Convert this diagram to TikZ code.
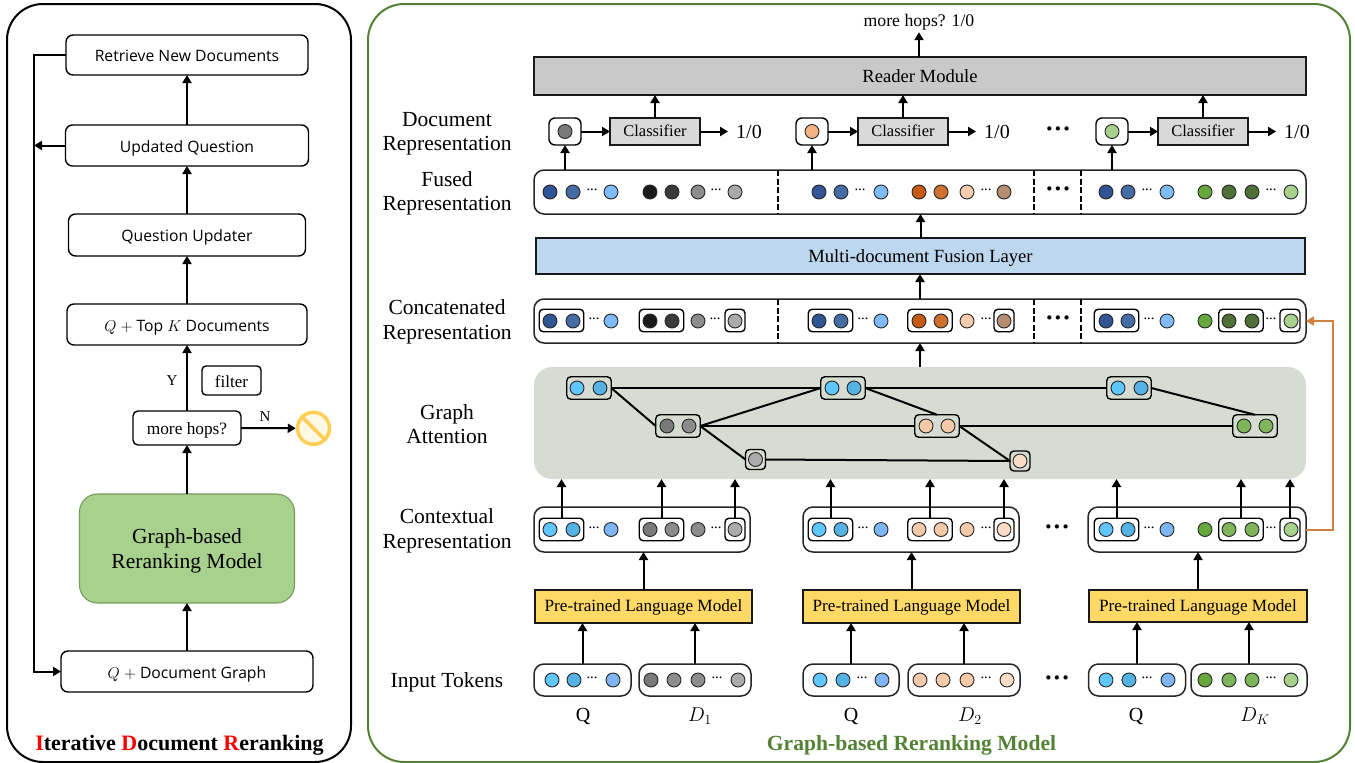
\documentclass[tikz,border=0pt]{standalone}
\usepackage{fix-cm}
\usepackage{fontspec}
\setmainfont{Liberation Serif}
\setsansfont{Open Sans}
\usepackage{amsmath}
\usetikzlibrary{positioning}
\usetikzlibrary{arrows.meta}

\definecolor{panelGreen}{HTML}{548235}
\definecolor{modelGreen}{HTML}{A9D18E}
\definecolor{graphBack}{HTML}{D7DCD2}
\definecolor{fusionBlue}{HTML}{BDD7EE}
\definecolor{plmYellow}{HTML}{FFD966}
\definecolor{readerGray}{HTML}{C9C9C9}
\definecolor{classGray}{HTML}{D9D9D9}
\definecolor{feedOrange}{HTML}{D0803F}
\definecolor{stopGold}{HTML}{FFCE54}
\definecolor{stopFill}{HTML}{FFF8E5}
% dots
\definecolor{qDarkA}{HTML}{2F5597}
\definecolor{qDarkB}{HTML}{466CA6}
\definecolor{qLight}{HTML}{7FBBF8}
\definecolor{qSkyA}{HTML}{5FC6FF}
\definecolor{qSkyB}{HTML}{55B2E4}
\definecolor{qSkyC}{HTML}{7DB5F5}
\definecolor{grayA}{HTML}{7A7A7A}
\definecolor{grayB}{HTML}{8C8C8C}
\definecolor{grayC}{HTML}{ABABAB}
\definecolor{blackA}{HTML}{1A1A1A}
\definecolor{blackB}{HTML}{3A3A3A}
\definecolor{peachA}{HTML}{F6CAA9}
\definecolor{peachB}{HTML}{FADCC6}
\definecolor{peachC}{HTML}{F8CBAD}
\definecolor{peachD}{HTML}{F4B183}
\definecolor{rustA}{HTML}{C55A11}
\definecolor{rustB}{HTML}{D0702E}
\definecolor{rustC}{HTML}{B58E70}
\definecolor{leafA}{HTML}{66A83E}
\definecolor{leafB}{HTML}{7FB55A}
\definecolor{leafC}{HTML}{4F7036}

\newcommand{\fusedlist}{550/qDarkA,573/qDarkB,611/qLight,650/blackA,672/blackB,698/grayB,735/grayC,819/qDarkA,841/qDarkB,881/qLight,919/rustA,941/rustB,967/peachC,1004/rustC,1106/qDarkA,1128/qDarkB,1167/qLight,1205/leafA,1229/leafC,1252/leafC,1291/modelGreen}
\newcommand{\ctxlist}{550/qSkyA,573/qSkyB,611/qSkyC,650/grayA,672/grayB,698/grayB,735/grayC,819/qSkyA,841/qSkyB,881/qSkyC,919/peachA,941/peachA,967/peachA,1004/peachB,1106/qSkyA,1128/qSkyB,1167/qSkyC,1205/leafA,1229/leafB,1252/leafB,1291/modelGreen}
\newcommand{\tokenlist}{552/qSkyA,574/qSkyB,613/qSkyC,651/grayA,674/grayB,698/grayB,738/grayC,820/qSkyA,843/qSkyB,882/qSkyC,920/peachA,943/peachA,967/peachA,1007/peachB,1106/qSkyA,1129/qSkyB,1168/qSkyC,1205/leafA,1229/leafB,1252/leafB,1291/modelGreen}
\newcommand{\graphlist}{577/388/qSkyA,600/388/qSkyB,667/426/grayA,689/426/grayB,755.5/459.5/grayC,832/388/qSkyA,854/388/qSkyB,926/426/peachA,948/426/peachA,1020/461/peachB,1118/388/qSkyA,1141/388/qSkyB,1244/426/leafB,1266/426/leafB}

\newcommand{\dotrow}[3]{%
	\foreach \dotx/\dotc [count=\dotn] in #3 {
		\node[tokdot, fill=\dotc] (#1-\dotn) at (\dotx,#2) {};
	}%
}
\newcommand{\gapdots}[3]{%
	\foreach \dotx [count=\dotn] in {#3} {
		\node[smalldots] (#1-\dotn) at (\dotx,#2) {···};
	}%
}
\newcommand{\pairs}[2]{%
	\node[pairbox] (#1a) at (561.5,#2) {};
	\node[pairbox] (#1b) at (661.5,#2) {};
	\node[onebox] (#1c) at (735,#2) {};
	\node[pairbox] (#1d) at (830.5,#2) {};
	\node[pairbox] (#1e) at (930,#2) {};
	\node[onebox] (#1f) at (1004,#2) {};
	\node[pairbox] (#1g) at (1116.5,#2) {};
	\node[pairbox] (#1h) at (1241,#2) {};
	\node[onebox] (#1i) at (1290,#2) {};
}

\tikzset{
	arr/.style={line width=2pt, -{Triangle[length=8pt, width=9pt]}},
	lbl/.style={font=\fontsize{21.5}{24.5}\selectfont, align=center, inner sep=0pt},
	tag/.style={font=\fontsize{20}{24}\selectfont, inner sep=0pt},
	flow/.style={draw, line width=1.4pt, rounded corners=7pt, fill=white, inner sep=0pt, outer sep=0pt, text height=15pt, text depth=2pt, font=\sffamily\fontsize{15.7}{18}\selectfont},
	tokdot/.style={circle, draw=black!85, line width=0.9pt, minimum size=14pt, inner sep=0pt, outer sep=0pt},
	smalldots/.style={inner sep=0pt, font=\bfseries\fontsize{11}{11}\selectfont},
	bigdots/.style={inner sep=0pt, font=\bfseries\fontsize{26}{26}\selectfont},
	rowbox/.style={draw=black!85, line width=1.5pt, rounded corners=10pt, fill=white, inner sep=0pt, outer sep=0pt, minimum height=44pt},
	pairbox/.style={draw, line width=1.4pt, rounded corners=4pt, inner sep=0pt, outer sep=0pt, minimum width=44.5pt, minimum height=22.5pt},
	onebox/.style={pairbox, minimum width=20pt},
	graphpair/.style={pairbox, fill=graphBack},
	graphone/.style={onebox, fill=graphBack, minimum height=20pt},
	block/.style={draw=black!90, line width=2pt, inner sep=0pt, outer sep=0pt, text height=15pt, text depth=2pt, font=\fontsize{18.6}{20}\selectfont},
	smallblock/.style={block, text height=13pt, text depth=3pt},
	cut/.style={line width=2pt, dash pattern=on 6pt off 2.5pt},
	edge/.style={line width=2pt},
}

\begin{document}
\begin{tikzpicture}[x=1pt, y=-1pt]
\useasboundingbox (0,0) rectangle (1355,763);

\node[draw, line width=2pt, rounded corners=36pt, minimum width=344pt, minimum height=758pt, outer sep=0pt] (leftPanel) at (179,383) {};
\node[draw=panelGreen, line width=2pt, rounded corners=36pt, minimum width=982pt, minimum height=758pt, outer sep=0pt] (rightPanel) at (859,383) {};

% --- left column
\node[flow, minimum width=252pt, minimum height=41pt] (docGraph) at (187,671.5) {$Q$ $+$ Document Graph};

\node[
	draw=panelGreen!80,
	fill=modelGreen,
	line width=1.1pt,
	rounded corners=18pt,
	outer sep=0pt,
	minimum width=215pt,
	minimum height=109pt,
	above=48pt of docGraph
] (rerankModel) {};
\node[lbl, yshift=-2.5pt] (rerankText) at (rerankModel) {Graph-based\\Reranking Model};

\node[
	flow,
	font=\fontsize{17.3}{20}\selectfont,
	rounded corners=5pt,
	minimum width=108pt,
	minimum height=34pt,
	above=49pt of rerankModel
] (moreHops) {more hops?};

\node[flow, minimum width=240pt, minimum height=41pt, above=66pt of moreHops] (topK) {$Q$ $+$ Top $K$ Documents};
\node[flow, minimum width=237pt, minimum height=42pt, above=48pt of topK] (updater) {Question Updater};
\node[flow, minimum width=243pt, minimum height=41pt, above=48pt of updater] (updated) {Updated Question};
\node[flow, minimum width=242pt, minimum height=40pt, above=50pt of updated] (retrieve) {Retrieve New Documents};

\node[
	flow,
	font=\fontsize{17}{20}\selectfont,
	rounded corners=4pt,
	minimum width=59pt,
	minimum height=29pt
] (filterBox) at (231.5,380.5) {filter};

\node[circle, draw=stopGold, line width=3.5pt, fill=stopFill, minimum size=32pt, inner sep=0pt, outer sep=1.75pt] (stopSign) at (313.5,428.3) {};
\draw[stopGold, line width=3.5pt] (stopSign.north west) -- (stopSign.south east);

\node[lbl, font=\fontsize{15}{16}\selectfont] (yesLabel) at (172,381) {Y};
\node[lbl, font=\fontsize{15}{16}\selectfont] (noLabel) at (265,417) {N};

\draw[arr] (docGraph) -- (rerankModel);
\draw[arr] (rerankModel) -- (moreHops);
\draw[arr] (moreHops) -- (topK);
\draw[arr] (moreHops) -- (stopSign);
\draw[arr] (topK) -- (updater);
\draw[arr] (updater) -- (updated);
\draw[arr] (updated) -- (retrieve);

\coordinate (feedTop) at (34,55);
\draw[arr] (retrieve.west) -- (retrieve.west -| feedTop) |- (docGraph.west);
\draw[arr] (updated.west) -- (updated.west -| feedTop);

\node[inner sep=0pt, font=\bfseries\fontsize{22}{26}\selectfont] (leftTitle) at (179.5,745) {\textcolor{red}{I}terative \textcolor{red}{D}ocument \textcolor{red}{R}eranking};

% --- reader and classifiers
\node[block, fill=readerGray, minimum width=772pt, minimum height=38pt] (reader) at (920,76) {Reader Module};
\node[lbl, font=\fontsize{17.7}{20}\selectfont] (hopsOut) at (919,22) {more hops? 1/0};
\draw[arr, shorten >=2pt] (reader.north -| hopsOut) -- (hopsOut.south);

\foreach \name/\dotx/\boxx/\outx/\dotcol in {A/565/655/749/grayA, B/812/903/997/peachD, C/1112/1203/1297/modelGreen} {
	\node[onebox, minimum width=32pt, minimum height=27pt, rounded corners=6pt, fill=white] (cell\name) at (\dotx,131.5) {};
	\node[tokdot, fill=\dotcol] (cellDot\name) at (\dotx,131.5) {};
	\node[smallblock, font=\fontsize{16.5}{18}\selectfont, fill=classGray, minimum width=90pt, minimum height=27pt] (classifier\name) at (\boxx,131.5) {Classifier};
	\node[lbl, font=\fontsize{20}{22}\selectfont] (out\name) at (\outx,131.5) {1/0};
	\draw[arr] (cell\name) -- (classifier\name);
	\draw[arr, shorten >=8pt] (classifier\name.east) -- (out\name.west);
	\draw[arr] (classifier\name.north) -- (classifier\name.north |- reader.south);
}
\node[bigdots] (gapTop) at (1058,132) {···};

% --- representation rows
\node[rowbox, minimum width=772pt] (fusedRow) at (920,192) {};
\node[block, fill=fusionBlue, minimum width=769pt, minimum height=36pt] (fusion) at (920.5,256) {Multi-document Fusion Layer};
\node[rowbox, minimum width=772pt] (concatRow) at (920,321) {};
\node[draw=none, fill=graphBack, rounded corners=18pt, minimum width=772pt, minimum height=112pt, outer sep=0pt] (graphPanel) at (920,423) {};

\foreach \row in {fusedRow, concatRow} {
	\draw[cut] (\row.north -| 778,0) -- (\row.south -| 778,0);
	\draw[cut] (\row.north -| 1034,0) -- (\row.south -| 1034,0);
	\draw[cut] (\row.north -| 1081,0) -- (\row.south -| 1081,0);
}
\node[bigdots] (gapFused) at (1058,192.5) {···};
\node[bigdots] (gapConcat) at (1058,321.5) {···};

\foreach \name in {A,B,C} {
	\draw[arr] (fusedRow.north -| cell\name) -- (cell\name.south);
}
\draw[arr] (fusion.north) -- (fusion.north |- fusedRow.south);

\dotrow{fused}{192}{\fusedlist}
\gapdots{fusedGap}{191.5}{592,716,860,986,1147,1271}

\pairs{cc}{320.5}
\dotrow{concat}{321}{\fusedlist}
\gapdots{concatGap}{320.5}{594,715,863,986,1149,1271}

\draw[arr] (concatRow.north) -- (concatRow.north |- fusion.south);
\draw[arr] (graphPanel.north) -- (graphPanel.north |- concatRow.south);

% --- graph
\node[graphpair] (g1) at (589,388) {};
\node[graphpair] (g2) at (678,426) {};
\node[graphone] (g3) at (755.5,459.5) {};
\node[graphpair] (g4) at (843,388) {};
\node[graphpair] (g5) at (937,426) {};
\node[graphone] (g6) at (1020,461) {};
\node[graphpair] (g7) at (1129,388) {};
\node[graphpair] (g8) at (1255,426) {};

\draw[edge] (g1.east) -- (g4.west);
\draw[edge] (g1.east) -- (g2.west);
\draw[edge] (g2.east) -- (g4.west);
\draw[edge] (g2.east) -- (g5.west);
\draw[edge] (g2.east) -- (g3.west);
\draw[edge] (g3.east) -- (g6.west);
\draw[edge] (g4.east) -- (g7.west);
\draw[edge] (g4.east) -- (g5.north);
\draw[edge] (g5.east) -- (g6.west);
\draw[edge] (g5.east) -- (g8.west);
\draw[edge] (g7.east) -- (g8.north);

\foreach \dotx/\doty/\dotc [count=\dotn] in \graphlist {
	\node[tokdot, fill=\dotc] (graphDot-\dotn) at (\dotx,\doty) {};
}

% --- contextual rows
\node[rowbox, minimum width=216pt, minimum height=45pt] (ctxA) at (642,529.5) {};
\node[rowbox, minimum width=216pt, minimum height=45pt] (ctxB) at (911,529.5) {};
\node[rowbox, minimum width=218pt, minimum height=45pt] (ctxC) at (1197,529.5) {};

\pairs{cx}{529.5}
\dotrow{ctx}{529.5}{\ctxlist}
\gapdots{ctxGap}{529}{594,716,863,986,1149,1271}
\node[bigdots] (gapCtxA) at (1057,530) {···};

\foreach \inner in {a,b,c,d,e,f,g,h,i} {
	\draw[arr] (cx\inner.north) -- (cx\inner.north |- graphPanel.south);
}

\draw[arr, feedOrange] (ctxC.east) -- ++(27,0) |- (concatRow.east);

% --- language models
\tikzset{plm/.style={smallblock, fill=plmYellow, font=\fontsize{17.2}{19}\selectfont, minimum width=217pt, minimum height=33pt}}
\node[plm] (plmA) at (643.5,606.5) {Pre-trained Language Model};
\node[plm] (plmB) at (911.5,606.5) {Pre-trained Language Model};
\node[plm, minimum width=218pt, minimum height=32pt] (plmC) at (1198,606) {Pre-trained Language Model};

\draw[arr] (plmA.north) -- (plmA.north |- ctxA.south);
\draw[arr] (plmB.north) -- (plmB.north |- ctxB.south);
\draw[arr] (plmC.north) -- (plmC.north |- ctxC.south);

% --- input tokens
\foreach \name/\boxx/\boxw/\plm in {QA/582.5/97/plmA, DA/695/112/plmA, QB/851/96/plmB, DB/964/112/plmB, QC/1137/97/plmC, DC/1249/116/plmC} {
	\node[rowbox, minimum width=\boxw pt, minimum height=32pt] (token\name) at (\boxx,680) {};
	\draw[arr] (token\name.north) -- (token\name.north |- \plm.south);
}
\dotrow{token}{680}{\tokenlist}
\gapdots{tokenGap}{679.5}{592,717,862,986,1147,1271}
\node[bigdots] (gapToken) at (1057,681.5) {···};

\node[tag] (nameQA) at (583,716) {Q};
\node[tag] (nameDA) at (700,716) {$D_1$};
\node[tag] (nameQB) at (851,716) {Q};
\node[tag] (nameDB) at (970,716) {$D_2$};
\node[tag] (nameQC) at (1136,716) {Q};
\node[tag] (nameDC) at (1255,716) {$D_K$};

% --- row names
\node[lbl] (nameDoc) at (447,133.5) {Document\\Representation};
\node[lbl] (nameFused) at (447,193.5) {Fused\\Representation};
\node[lbl] (nameConcat) at (447,322) {Concatenated\\Representation};
\node[lbl] (nameGraph) at (447,424) {Graph\\Attention};
\node[lbl] (nameCtx) at (447,531) {Contextual\\Representation};
\node[lbl] (nameInput) at (447,682) {Input Tokens};

\node[inner sep=0pt, text=panelGreen, font=\bfseries\fontsize{21.6}{24}\selectfont] (rightTitle) at (911.5,745.5) {Graph-based Reranking Model};

\end{tikzpicture}
\end{document}
